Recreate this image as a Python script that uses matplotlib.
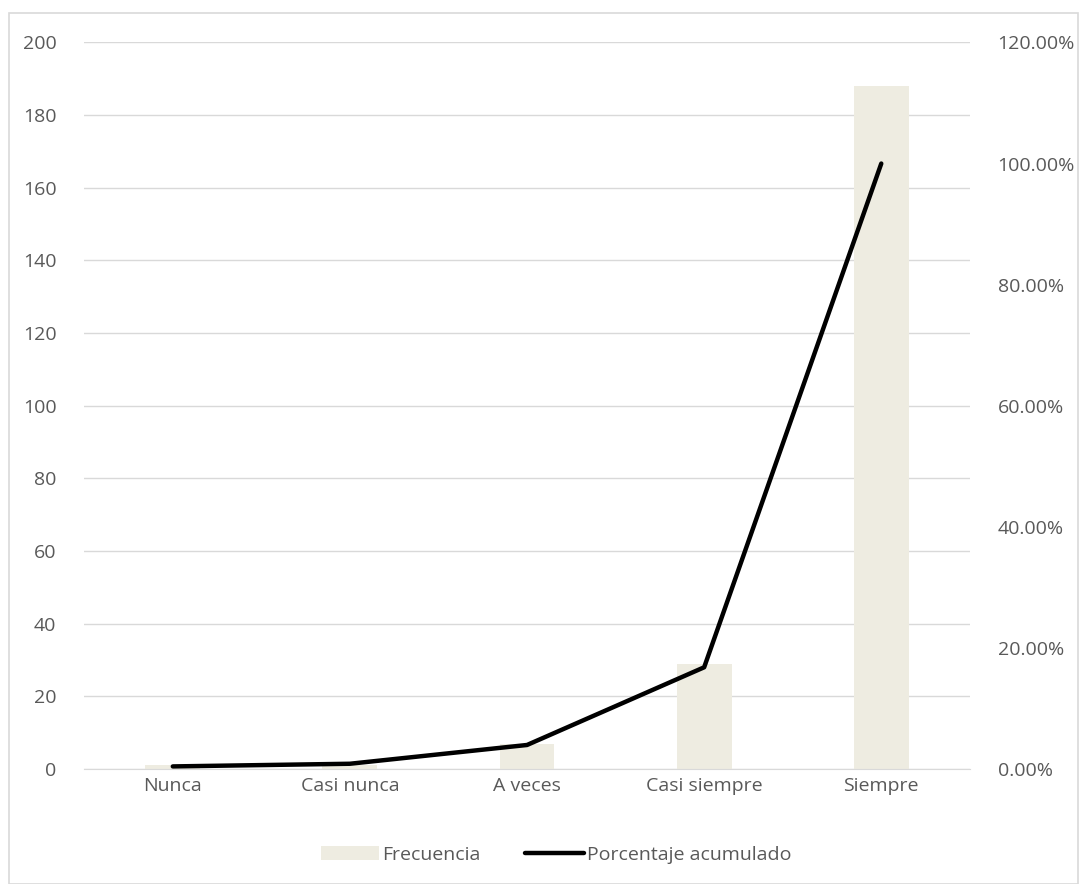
import numpy as np
import matplotlib.pyplot as plt
from matplotlib.patches import Rectangle
from matplotlib.ticker import FuncFormatter

plt.rcParams['font.family'] = ['Open Sans', 'DejaVu Sans']

categorias = ['Nunca', 'Casi nunca', 'A veces', 'Casi siempre', 'Siempre']
frecuencia = [1, 1, 7, 29, 188]
acumulado = [0.44, 0.88, 3.98, 16.81, 100.0]

txt = '#595959'
grid = '#D9D9D9'
fs = 14

fig = plt.figure(figsize=(10.8, 8.84), dpi=100)
fig.patches.append(Rectangle((0.008, 0.0), 0.99, 0.985, transform=fig.transFigure,
                             fill=False, ec='#D9D9D9', lw=1.2))
ax = fig.add_axes([0.078, 0.13, 0.82, 0.822])
x = np.arange(len(categorias))
ax.bar(x, frecuencia, width=0.31, color='#EEECE1', label='Frecuencia', zorder=2)
ax.set_ylim(0, 200)
ax.set_xlim(-0.5, len(categorias) - 0.5)
ax.set_yticks(np.arange(0, 201, 20))
ax.set_xticks(x)
ax.set_xticklabels(categorias)
ax.grid(axis='y', color=grid, lw=1, zorder=0)
ax.set_axisbelow(True)
for s in ax.spines:
    ax.spines[s].set_visible(False)
ax.spines['bottom'].set_visible(True)
ax.spines['bottom'].set_color(grid)
ax.tick_params(length=0, labelsize=fs, colors=txt, pad=6)
ax.tick_params(axis='y', pad=20)

ax2 = ax.twinx()
ax2.plot(x, acumulado, color='black', lw=3.2, solid_capstyle='round',
         label='Porcentaje acumulado', zorder=3)
ax2.set_ylim(0, 120)
ax2.set_yticks(np.arange(0, 121, 20))
ax2.yaxis.set_major_formatter(FuncFormatter(lambda v, p: f'{v:.2f}%'))
for s in ax2.spines:
    ax2.spines[s].set_visible(False)
ax2.tick_params(length=0, labelsize=fs, colors=txt, pad=20)

h1, l1 = ax.get_legend_handles_labels()
h2, l2 = ax2.get_legend_handles_labels()
fig.legend(h1 + h2, l1 + l2, loc='center', bbox_to_anchor=(0.515, 0.033), ncol=2,
           frameon=False, fontsize=fs, labelcolor=txt, handlelength=3.0,
           handletextpad=0.15, columnspacing=2.3)

fig.savefig('out.png', dpi=100)
